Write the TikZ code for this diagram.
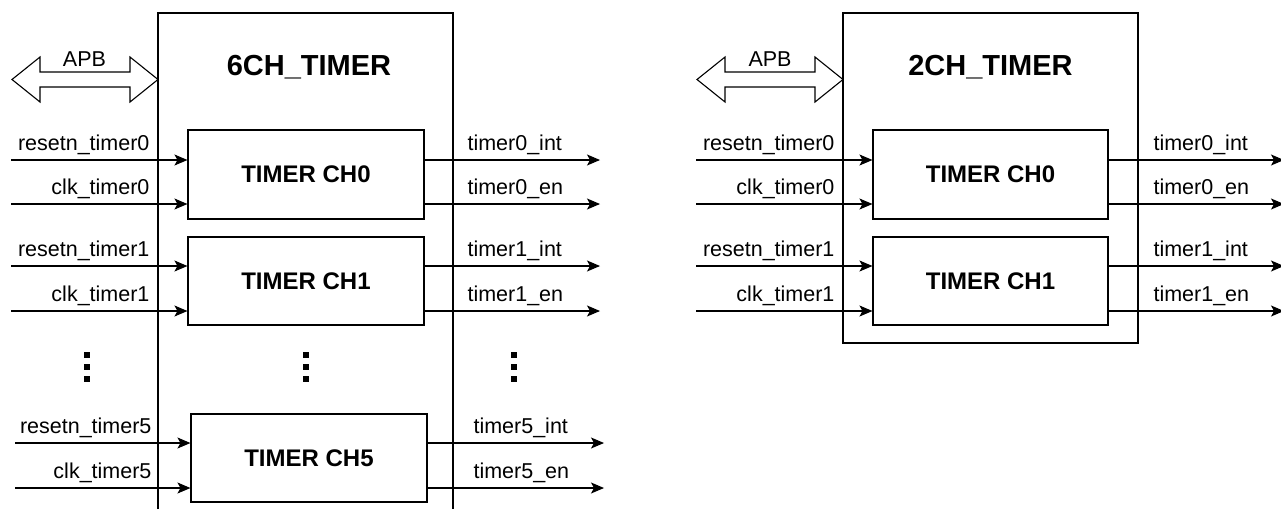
\documentclass[tikz,border=0pt]{standalone}
\usepackage{fontspec}
\setmainfont{Liberation Sans}
\usetikzlibrary{arrows.meta}
\begin{document}
\begin{tikzpicture}[x=1pt,y=-1pt,line width=1.1pt,
  blk/.style={draw, minimum width=236pt, minimum height=89pt, inner sep=0pt, font=\fontsize{24}{28}\selectfont\bfseries},
  lbl/.style={font=\fontsize{21.5}{24}\selectfont, inner sep=0pt},
  ttl/.style={font=\fontsize{29}{32}\selectfont\bfseries, inner sep=0pt},
  sig/.style={-{Stealth[length=13pt,width=11pt,inset=3pt]}},
  dotsq/.style={fill=black, minimum size=6pt, inner sep=0pt},
  bus/.style={draw, fill=white, line width=1.1pt}]
\useasboundingbox (0,0) rectangle (1281,509);

% ===== 6CH block =====
\draw (158,509) -- (158,13) -- (453,13) -- (453,509);
\node[ttl, anchor=base] (t6) at (309,75) {6CH\_TIMER};
\draw[bus] (12,79.5) -- (40,57) -- (40,72) -- (130,72) -- (130,57) -- (158,79.5)
  -- (130,102) -- (130,87) -- (40,87) -- (40,102) -- cycle;
\node[lbl, anchor=base] (apb6) at (84.5,66) {APB};

\node[blk] (a0) at (306,174.5) {TIMER CH0};
\node[blk, minimum height=88pt] (a1) at (306,281) {TIMER CH1};
\node[blk, minimum height=88pt] (a5) at (309,458) {TIMER CH5};

% inputs
\coordinate (a0r) at (11,160); \coordinate (a0c) at (11,204);
\coordinate (a1r) at (11,266); \coordinate (a1c) at (11,311);
\coordinate (a5r) at (15,443); \coordinate (a5c) at (15,488);
\draw[sig] (a0r) -- (a0r -| a0.west);
\draw[sig] (a0c) -- (a0c -| a0.west);
\draw[sig] (a1r) -- (a1r -| a1.west);
\draw[sig] (a1c) -- (a1c -| a1.west);
\draw[sig] (a5r) -- (a5r -| a5.west);
\draw[sig] (a5c) -- (a5c -| a5.west);
\node[lbl, anchor=base east] (la0r) at (150,150) {resetn\_timer0};
\node[lbl, anchor=base east] (la0c) at (150,194) {clk\_timer0};
\node[lbl, anchor=base east] (la1r) at (150,256) {resetn\_timer1};
\node[lbl, anchor=base east] (la1c) at (150,301) {clk\_timer1};
\node[lbl, anchor=base east] (la5r) at (152,433) {resetn\_timer5};
\node[lbl, anchor=base east] (la5c) at (152,478) {clk\_timer5};

% outputs
\coordinate (a0i) at (600,160); \coordinate (a0e) at (600,204);
\coordinate (a1i) at (600,266); \coordinate (a1e) at (600,311);
\coordinate (a5i) at (604,443); \coordinate (a5e) at (604,488);
\draw[sig] (a0.east |- a0i) -- (a0i);
\draw[sig] (a0.east |- a0e) -- (a0e);
\draw[sig] (a1.east |- a1i) -- (a1i);
\draw[sig] (a1.east |- a1e) -- (a1e);
\draw[sig] (a5.east |- a5i) -- (a5i);
\draw[sig] (a5.east |- a5e) -- (a5e);
\node[lbl, anchor=base west] (oa0i) at (467,150) {timer0\_int};
\node[lbl, anchor=base west] (oa0e) at (467,194) {timer0\_en};
\node[lbl, anchor=base west] (oa1i) at (467,256) {timer1\_int};
\node[lbl, anchor=base west] (oa1e) at (467,301) {timer1\_en};
\node[lbl, anchor=base west] (oa5i) at (473,433) {timer5\_int};
\node[lbl, anchor=base west] (oa5e) at (473,478) {timer5\_en};

% dots
\foreach \x/\n in {86.5/l,306/m,513.5/r}{
  \node[dotsq] (d\n1) at (\x,355) {};
  \node[dotsq] (d\n2) at (\x,367) {};
  \node[dotsq] (d\n3) at (\x,379) {};
}

% ===== 2CH block =====
\node[draw, minimum width=295pt, minimum height=330pt, inner sep=0pt] (b) at (990.5,178) {};
\node[ttl, anchor=base] (t2) at (990.5,75) {2CH\_TIMER};
\draw[bus] (697,79.5) -- (725,57) -- (725,72) -- (815,72) -- (815,57) -- (843,79.5)
  -- (815,102) -- (815,87) -- (725,87) -- (725,102) -- cycle;
\node[lbl, anchor=base] (apb2) at (770,66) {APB};

\node[blk, minimum width=235pt] (b0) at (990.5,174.5) {TIMER CH0};
\node[blk, minimum width=235pt, minimum height=88pt] (b1) at (990.5,281) {TIMER CH1};

\coordinate (b0r) at (696,160); \coordinate (b0c) at (696,204);
\coordinate (b1r) at (696,266); \coordinate (b1c) at (696,311);
\draw[sig] (b0r) -- (b0r -| b0.west);
\draw[sig] (b0c) -- (b0c -| b0.west);
\draw[sig] (b1r) -- (b1r -| b1.west);
\draw[sig] (b1c) -- (b1c -| b1.west);
\node[lbl, anchor=base east] (lb0r) at (835,150) {resetn\_timer0};
\node[lbl, anchor=base east] (lb0c) at (835,194) {clk\_timer0};
\node[lbl, anchor=base east] (lb1r) at (835,256) {resetn\_timer1};
\node[lbl, anchor=base east] (lb1c) at (835,301) {clk\_timer1};

\coordinate (b0i) at (1284,160); \coordinate (b0e) at (1284,204);
\coordinate (b1i) at (1284,266); \coordinate (b1e) at (1284,311);
\draw[sig] (b0.east |- b0i) -- (b0i);
\draw[sig] (b0.east |- b0e) -- (b0e);
\draw[sig] (b1.east |- b1i) -- (b1i);
\draw[sig] (b1.east |- b1e) -- (b1e);
\node[lbl, anchor=base west] (ob0i) at (1153,150) {timer0\_int};
\node[lbl, anchor=base west] (ob0e) at (1153,194) {timer0\_en};
\node[lbl, anchor=base west] (ob1i) at (1153,256) {timer1\_int};
\node[lbl, anchor=base west] (ob1e) at (1153,301) {timer1\_en};
\end{tikzpicture}
\end{document}
